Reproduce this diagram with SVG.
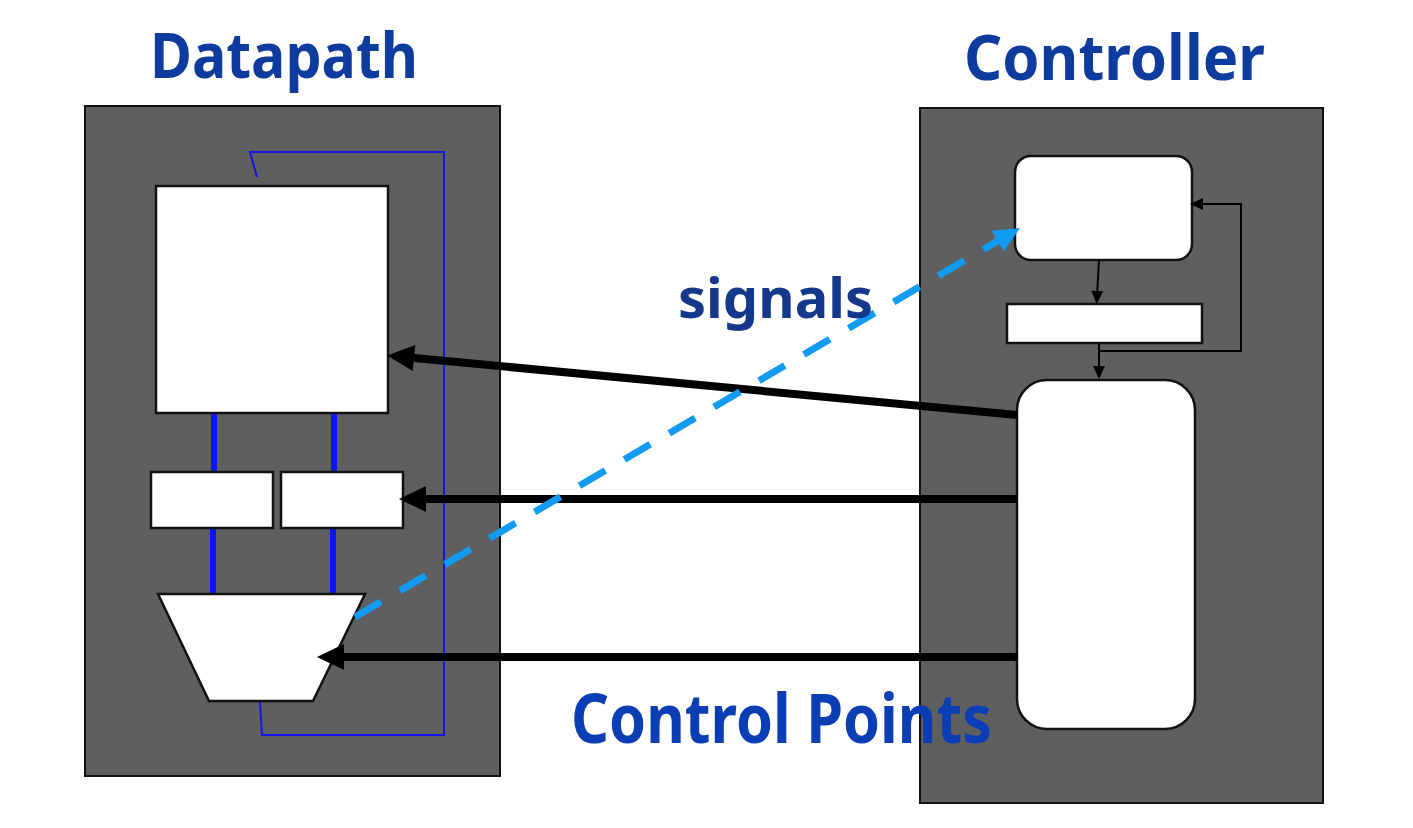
<svg xmlns="http://www.w3.org/2000/svg" width="1413" height="828" viewBox="0 0 1413 828">
<style>
.panel{fill:#5f5f5f;stroke:#111;stroke-width:2}
.box{fill:#fff;stroke:#111;stroke-width:2.5}
.title{font-family:"Noto Sans","DejaVu Sans",sans-serif;font-weight:bold;fill:#0d3b9e}
.bus{stroke:#0a14ff;stroke-width:6;fill:none}
.wire{stroke:#1414e6;stroke-width:2;fill:none}
.ctl{stroke:#000;stroke-width:8;fill:none}
.thin{stroke:#000;stroke-width:2;fill:none}
.sig{stroke:#129bf2;stroke-width:7;fill:none;stroke-dasharray:30 22}
</style>
<defs>
<marker id="bigHead" markerUnits="userSpaceOnUse" markerWidth="30" markerHeight="30" refX="0" refY="13" orient="auto" overflow="visible">
<path d="M0,0 L27,13 L0,26 Z" fill="#000"/>
</marker>
<marker id="smallHead" markerUnits="userSpaceOnUse" markerWidth="14" markerHeight="14" refX="0" refY="6" orient="auto" overflow="visible">
<path d="M0,0 L13,6 L0,12 Z" fill="#000"/>
</marker>
<marker id="sigHead" markerUnits="userSpaceOnUse" markerWidth="30" markerHeight="30" refX="0" refY="12" orient="auto" overflow="visible">
<path d="M0,0 L26,12 L0,24 Z" fill="#129bf2"/>
</marker>
</defs>
<rect width="1413" height="828" fill="#fff"/>

<g id="datapath">
<rect class="panel" x="85" y="106" width="415" height="670"/>
<text class="title" x="150" y="78" font-size="62" textLength="268" lengthAdjust="spacingAndGlyphs">Datapath</text>
</g>
<g id="controller">
<rect class="panel" x="920" y="108" width="403" height="695"/>
<text class="title" x="964" y="80" font-size="62" textLength="301" lengthAdjust="spacingAndGlyphs">Controller</text>
</g>

<g id="wires">
<polyline class="wire" points="257,177 250,152 444,152 444,735 262,735 260,702"/>
<line class="bus" x1="214" y1="412" x2="214" y2="477"/>
<line class="bus" x1="334" y1="412" x2="334" y2="478"/>
<line class="bus" x1="213" y1="522" x2="213" y2="594"/>
<line class="bus" x1="333" y1="525" x2="333" y2="594"/>
</g>

<g id="regfile"><rect class="box" x="156" y="186" width="232" height="227"/></g>
<g id="regA"><rect class="box" x="151" y="472" width="122" height="56"/></g>
<g id="regB"><rect class="box" x="281" y="472" width="122" height="56"/></g>
<g id="alu"><polygon class="box" points="158,594 365,594 313,701 209,701"/></g>

<g id="state"><rect class="box" x="1015" y="156" width="177" height="104" rx="16"/></g>
<g id="stateReg"><rect class="box" x="1007" y="304" width="195" height="39"/></g>
<g id="logic"><rect class="box" x="1017" y="380" width="178" height="349" rx="30"/></g>

<g id="connectors">
<line class="ctl" x1="1017" y1="415" x2="414" y2="358" marker-end="url(#bigHead)"/>
<line class="ctl" x1="1017" y1="499" x2="426" y2="499" marker-end="url(#bigHead)"/>
<line class="ctl" x1="1017" y1="657" x2="344" y2="657" marker-end="url(#bigHead)"/>
<line class="thin" x1="1099" y1="260" x2="1097.3" y2="291" marker-end="url(#smallHead)"/>
<line class="thin" x1="1099" y1="343" x2="1099" y2="366" marker-end="url(#smallHead)"/>
<polyline class="thin" points="1099,351 1241,351 1241,204 1203,204" marker-end="url(#smallHead)"/>
<line class="sig" x1="355" y1="617" x2="997.6" y2="241.1" marker-end="url(#sigHead)"/>
</g>

<g id="labels">
<text x="678" y="318" font-family="Noto Sans, DejaVu Sans, sans-serif" font-weight="bold" font-size="56" fill="#15398a" textLength="195" lengthAdjust="spacingAndGlyphs">signals</text>
<text x="571" y="743" font-family="Noto Sans, DejaVu Sans, sans-serif" font-weight="bold" font-size="68" fill="#0b3db5" textLength="421" lengthAdjust="spacingAndGlyphs">Control Points</text>
</g>
</svg>
